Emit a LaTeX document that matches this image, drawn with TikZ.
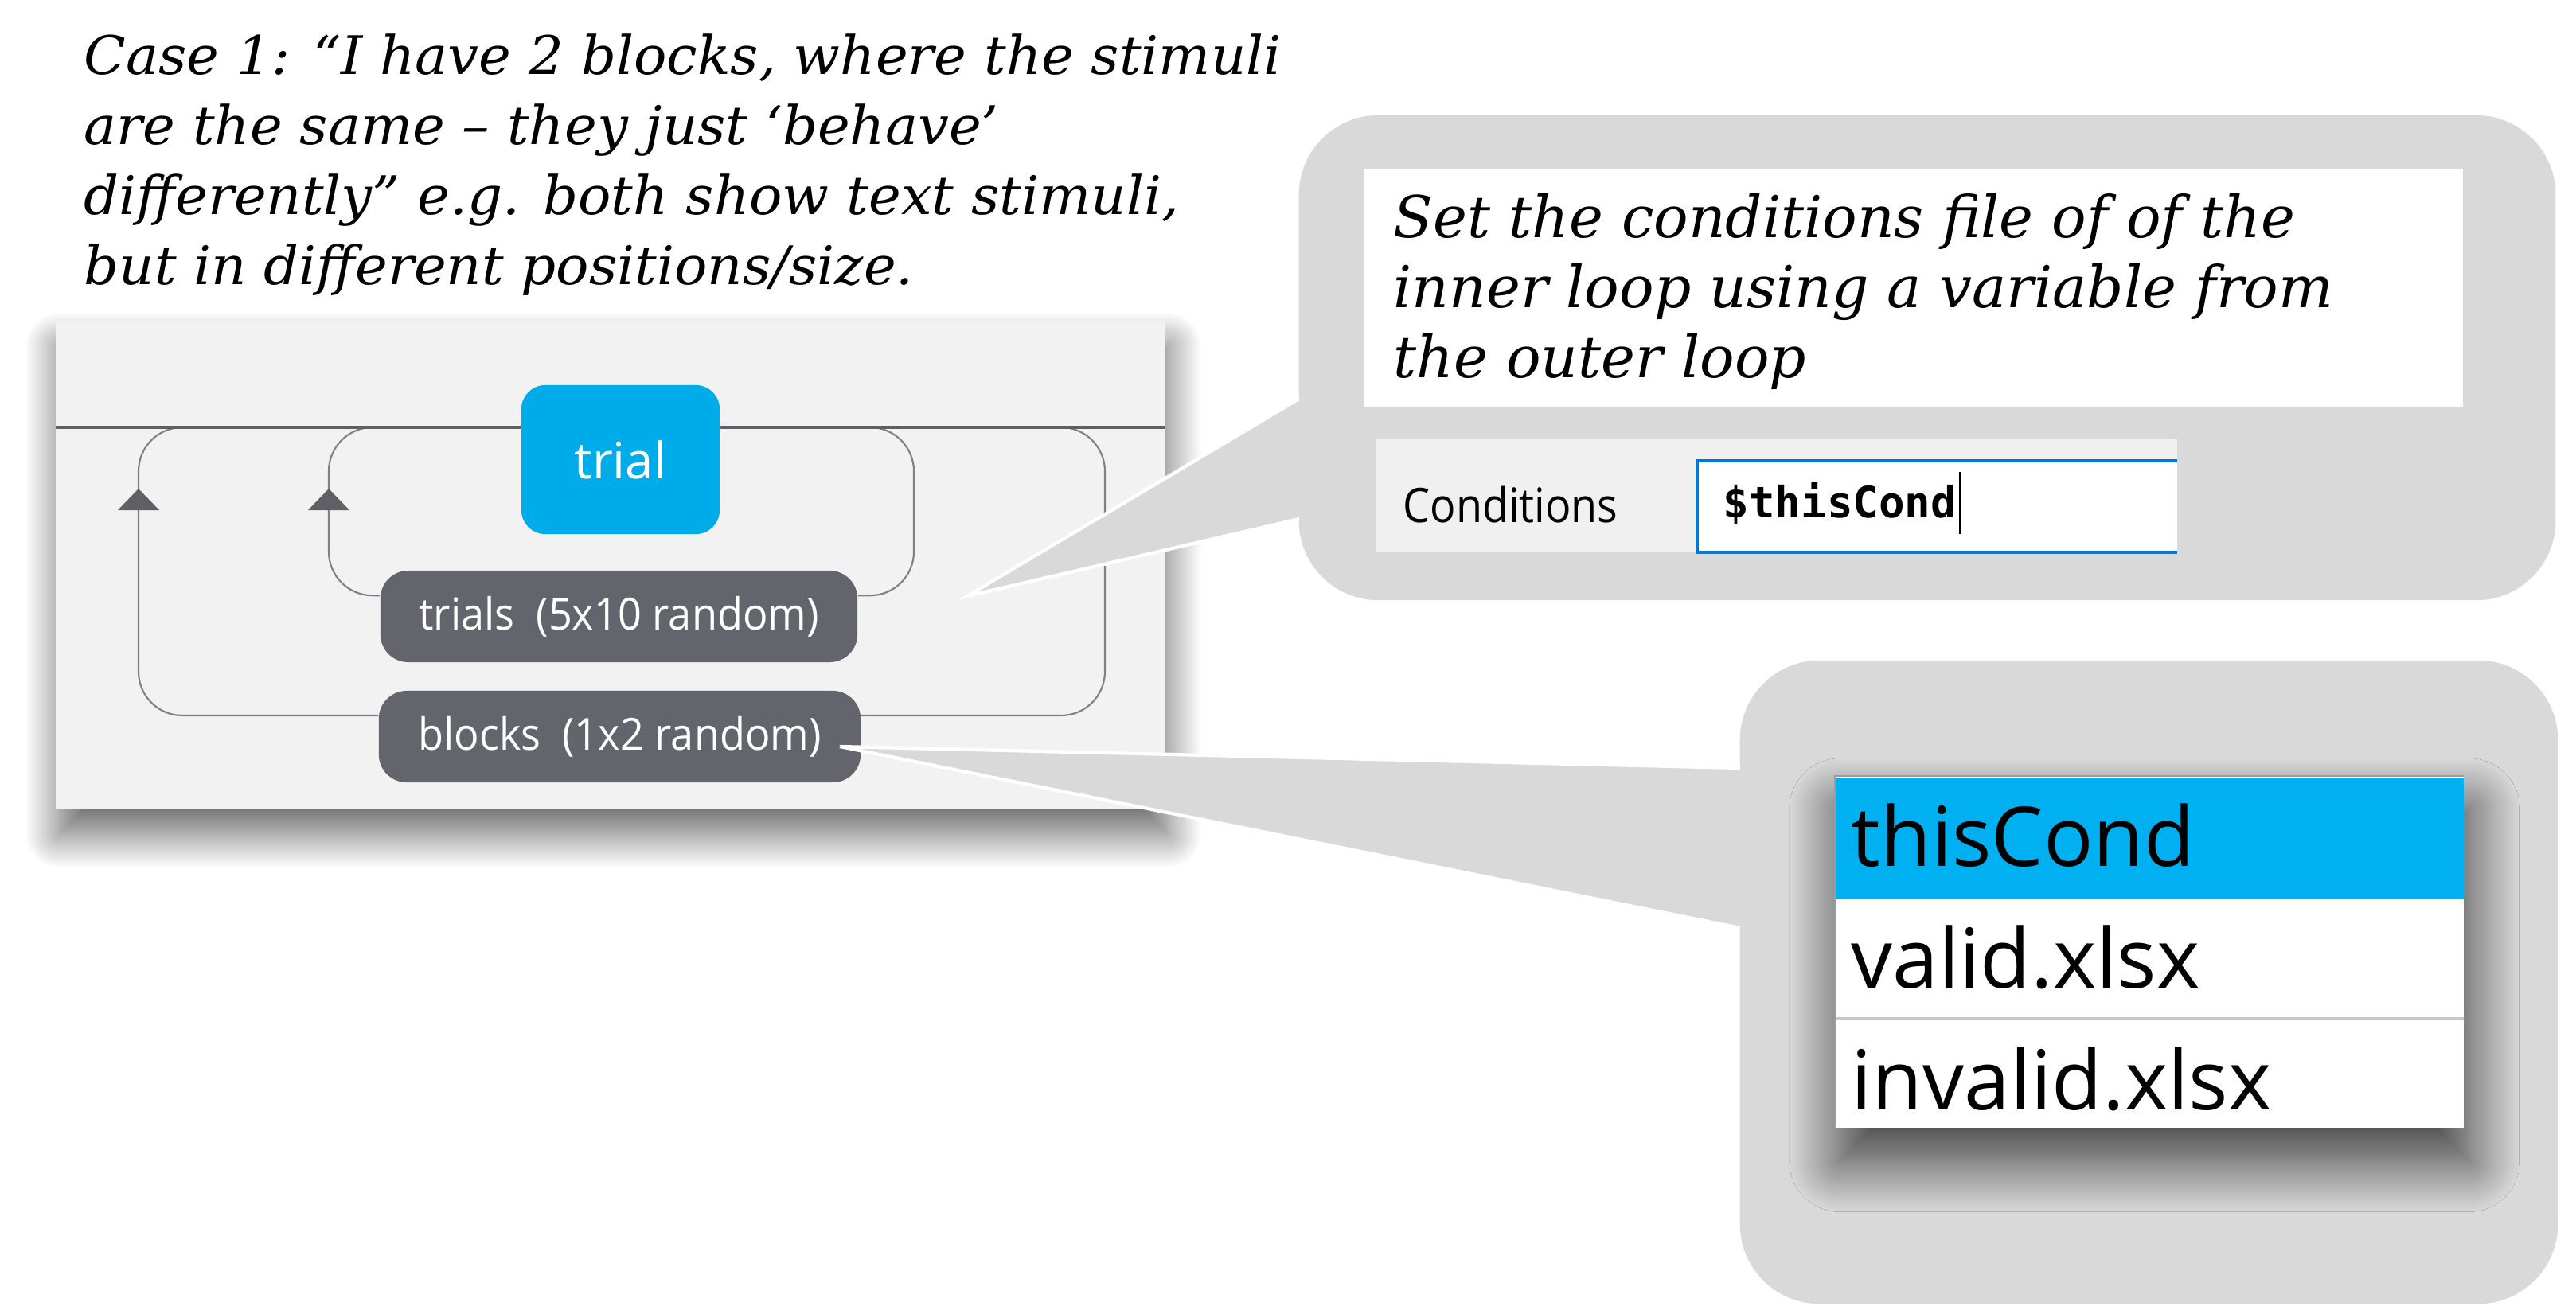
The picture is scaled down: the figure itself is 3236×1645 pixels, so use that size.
\documentclass[tikz,border=0pt]{standalone}
\usepackage{fontspec}
\usetikzlibrary{shadows.blur}
\newfontfamily\slab[FakeStretch=1.03]{DejaVu Serif}
\newfontfamily\slabb{DejaVu Serif}
\newfontfamily\ui{Open Sans}
\newfontfamily\uin[FakeStretch=0.9]{Open Sans}
\newfontfamily\uip[FakeStretch=0.94]{Open Sans}
\newfontfamily\mono{DejaVu Sans Mono}
\definecolor{panelbg}{RGB}{242,242,242}
\definecolor{flowline}{RGB}{95,95,102}
\definecolor{looplinec}{RGB}{128,128,134}
\definecolor{trialblue}{RGB}{0,171,234}
\definecolor{pillgray}{RGB}{100,100,108}
\definecolor{calloutgray}{RGB}{217,217,217}
\definecolor{listblue}{RGB}{0,176,240}
\definecolor{entryblue}{RGB}{0,120,215}
\definecolor{condbg}{RGB}{240,240,240}
\definecolor{sepgray}{RGB}{200,200,200}
\definecolor{bordergray}{RGB}{155,155,155}
\begin{document}
\begin{tikzpicture}[x=0.01cm,y=-0.01cm,
  slabtext/.style={anchor=base west, inner sep=0, font=\slab\itshape\fontsize{19}{25}\selectfont},
  notetext/.style={anchor=base west, inner sep=0, font=\slabb\itshape\fontsize{20.6}{25}\selectfont},
  pill/.style={fill=pillgray, rounded corners=0.35cm, minimum height=1.15cm, inner sep=0, text=white, font=\uip\fontsize{15.8}{18}\selectfont},
  loopline/.style={draw=looplinec, line width=0.6pt, rounded corners=0.55cm},
  looparrow/.style={fill=flowline},
  calloutbody/.style={fill=calloutgray, rounded corners=1cm, inner sep=0},
  wedgefill/.style={fill=calloutgray},
  wedgeedge/.style={draw=white, line width=1.2pt},
  listtext/.style={anchor=base west, inner sep=0, font=\ui\fontsize{29.5}{32}\selectfont},
  panelshadow/.style={blur shadow={shadow xshift=1pt, shadow yshift=-9pt, shadow blur radius=12pt, shadow blur steps=30, shadow opacity=60}},
  listshadow/.style={blur shadow={shadow xshift=2pt, shadow yshift=-12pt, shadow blur radius=18pt, shadow blur steps=30, shadow opacity=72}}
]
\useasboundingbox (0,0) rectangle (3236,1645);

% ---- caption text
\node[slabtext] (c1) at (105,93) {Case 1: “I have 2 blocks, where the stimuli};
\node[slabtext] (c2) at (105,181) {are the same – they just ‘behave’};
\node[slabtext] (c3) at (105,269) {differently” e.g. both show text stimuli,};
\node[slabtext] (c4) at (105,357) {but in different positions/size.};

% ---- flow panel
\fill[panelbg, panelshadow] (70,403) rectangle (1464,1017);

\node[fill=trialblue, rounded corners=0.3cm, minimum width=2.49cm, minimum height=1.87cm, inner sep=0, text=white, font=\ui\fontsize{18}{20}\selectfont] (trial) at (779.5,577.5) {trial};
\node[pill, minimum width=5.99cm] (trials) at (777.5,774.5) {trials\ \ (5x10 random)};
\node[pill, minimum width=6.05cm] (blocks) at (778.5,925.5) {blocks\ \ (1x2 random)};

% loops
\coordinate (flowL) at (70,537);
\coordinate (flowR) at (1464,537);
\draw[loopline] (trials.175) -| (413,537) -- (520,537);
\draw[loopline] (1090,537) -- (1148,537) |- (trials.5);
\draw[loopline] (blocks.175) -| (174,537) -- (280,537);
\draw[loopline] (1280,537) -- (1388,537) |- (blocks.5);
\draw[flowline, line width=1.1pt] (flowL) -- (trial.west |- flowL);
\draw[flowline, line width=1.1pt] (trial.east |- flowL) -- (flowR);
\fill[looparrow] (148,641) -- (200,641) -- (174,614) -- cycle;
\fill[looparrow] (387,641) -- (439,641) -- (413,614) -- cycle;

% ---- callout 1
\node[calloutbody, minimum width=15.78cm, minimum height=6.09cm] (call1) at (2421,449.5) {};
\coordinate (tip1) at (1215,749);
\coordinate (w1a) at (1632,501);
\coordinate (w1b) at (1632,652);
\fill[wedgefill] (tip1) -- (w1a) -- (1700,501) -- (1700,652) -- (w1b) -- cycle;
\draw[wedgeedge] (w1a) -- (tip1) -- (w1b);

\node[fill=white, minimum width=13.8cm, minimum height=2.99cm, inner sep=0] (note) at (2404,361.5) {};
\node[notetext] (n1) at (1750,298) {Set the conditions file of of the};
\node[notetext] (n2) at (1750,386) {inner loop using a variable from};
\node[notetext] (n3) at (1750,474) {the outer loop};

\node[fill=condbg, minimum width=10.07cm, minimum height=1.43cm, inner sep=0] (condrow) at (2231.5,622.5) {};
\node[anchor=base west, inner sep=0, font=\uin\fontsize{17}{20}\selectfont] (condlabel) at (1762,656) {Conditions};
\fill[white] (2132,579) rectangle (2735,694);
\draw[entryblue, line width=1.1pt] (2735,579) -- (2132,579) -- (2132,694) -- (2735,694);
\node[anchor=base west, inner sep=0, font=\mono\bfseries\fontsize{15.4}{18}\selectfont] (condval) at (2164,650) {\$thisCond};
\draw[black, line width=0.6pt] (2462,593) -- (2462,671);

% ---- callout 2
\node[calloutbody, minimum width=10.27cm, minimum height=8.08cm] (call2) at (2699.5,1234) {};
\coordinate (tip2) at (1055,938);
\coordinate (w2a) at (2186,965);
\coordinate (w2b) at (2186,1166);
\fill[wedgefill] (tip2) -- (w2a) -- (2250,965) -- (2250,1166) -- (w2b) -- cycle;
\draw[wedgeedge] (w2a) -- (tip2) -- (w2b);

\fill[white, listshadow] (2304,974) rectangle (3095,1417);
\fill[listblue] (2304,978) rectangle (3095,1130);
\draw[bordergray, line width=0.8pt] (2305,1417) -- (2305,975) -- (3095,975);
\draw[sepgray, line width=0.9pt] (2306,1280) -- (3095,1280);
\node[listtext] (r1) at (2325,1088) {thisCond};
\node[listtext] (r2) at (2325,1241) {valid.xlsx};
\node[listtext] (r3) at (2325,1394) {invalid.xlsx};
\end{tikzpicture}
\end{document}
